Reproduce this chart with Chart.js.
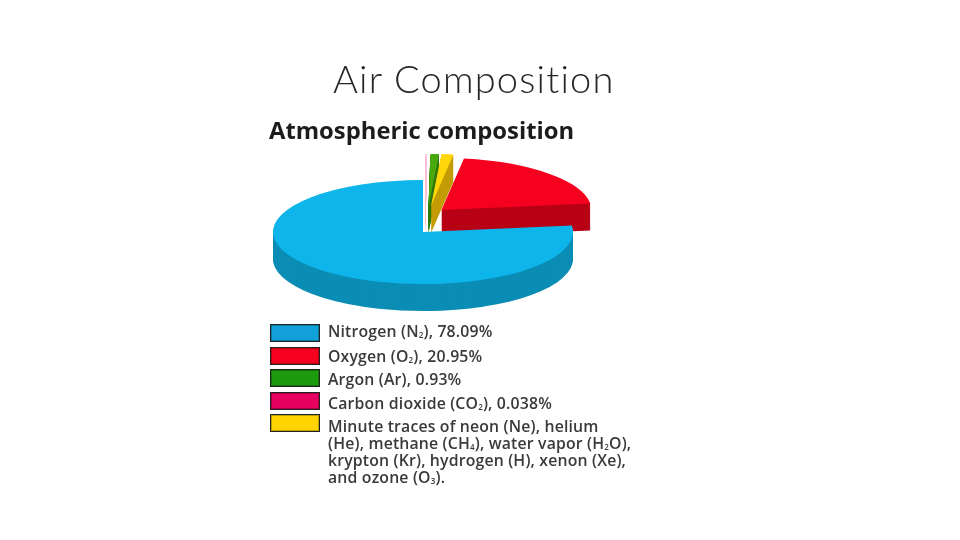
<!DOCTYPE html>
<html>
<head>
<meta charset="utf-8">
<title>Air Composition</title>
<script src="https://cdn.jsdelivr.net/npm/chart.js@4/dist/chart.umd.min.js"></script>
<style>
  html, body { margin: 0; background: #fff; }
  #page { position: relative; width: 960px; height: 540px; overflow: hidden; }
  #pie { position: absolute; left: 0; top: 0; filter: blur(0.4px); }
  #title { position: absolute; left: 333px; top: 55px; font: 300 38px Lato, sans-serif; letter-spacing: 1.2px; font-variant-ligatures: none; color: #262626; white-space: nowrap; }
  #sub { position: absolute; left: 269px; top: 114px; font: 700 23.8px "Open Sans", sans-serif; color: #1c1c1c; white-space: nowrap; filter: blur(0.5px); }
  .swatch { position: absolute; left: 270px; width: 48px; height: 16px; border: 1px solid #222; box-shadow: inset 0 0 0 1px rgba(0,0,0,.25); filter: blur(0.3px); }
  .entry { position: absolute; left: 328px; font: 600 15.8px/17px "Open Sans", sans-serif; letter-spacing: 0.17px; color: #3a3a3a; white-space: nowrap; filter: blur(0.5px); }
  .entry sub { font-size: 8px; line-height: 0; vertical-align: -1px; }
</style>
</head>
<body>
<div id="page">
  <canvas id="pie" width="960" height="540"></canvas>
  <div id="title">Air Composition</div>
  <div id="sub">Atmospheric composition</div>
</div>
<script>
// slices clockwise from 12 o'clock, values as drawn in the picture
const sliceLabels = ["Carbon dioxide", "Argon", "Minute traces", "Oxygen", "Nitrogen"];
const sliceValues = [0.2, 0.93, 1.3, 20.95, 78.09];
const sliceColors = ["#f9bcd8", "#4aa80f", "#ffd60a", "#f5001e", "#0db5ea"];
const sideColors = ["#f9bcd8", "#2f7a0a", "#c39c05", "#b80016", "#0b8db5"];

// legend
const legendColors = ["#12a0d8", "#f5001e", "#1e9a0e", "#e5005f", "#ffd400"];
const legendTexts = [
  "Nitrogen (N<sub>2</sub>), 78.09%",
  "Oxygen (O<sub>2</sub>), 20.95%",
  "Argon (Ar), 0.93%",
  "Carbon dioxide (CO<sub>2</sub>), 0.038%",
  "Minute traces of neon (Ne), helium<br>(He), methane (CH<sub>4</sub>), water vapor (H<sub>2</sub>O),<br>krypton (Kr), hydrogen (H), xenon (Xe),<br>and ozone (O<sub>3</sub>)."
];
const swatchTops = [324, 347, 369, 392, 414];
const entryTops = [323, 348, 371, 395, 418];

// how far each slice is pulled out, and the tilt of the pie
const sliceShiftX = [2, 5.5, 8, 18.5, 0];
const sliceShiftY = [-26, -26, -26, -22, 0];
const squash = 0.347;
const depth = 27;

legendColors.forEach((color, i) => {
  const swatch = document.createElement("div");
  swatch.className = "swatch";
  swatch.style.top = swatchTops[i] + "px";
  swatch.style.background = color;
  document.getElementById("page").appendChild(swatch);

  const entry = document.createElement("div");
  entry.className = "entry";
  entry.style.top = entryTops[i] + "px";
  entry.innerHTML = legendTexts[i];
  document.getElementById("page").appendChild(entry);
});

// draws the arcs squashed and stacked so the pie looks 3D
const tiltedPie = {
  id: "tiltedPie",
  beforeDatasetDraw(chart) {
    const ctx = chart.ctx;
    const arcs = chart.getDatasetMeta(0).data;

    arcs.forEach((arc, i) => {
      const base = arc.options;
      for (let d = depth; d >= 0; d--) {
        arc.options = Object.assign({}, base, {
          backgroundColor: d === 0 ? sliceColors[i] : sideColors[i]
        });
        ctx.save();
        ctx.translate(arc.x + sliceShiftX[i], arc.y + sliceShiftY[i] + d);
        ctx.scale(1, squash);
        ctx.translate(-arc.x, -arc.y);
        arc.draw(ctx);
        ctx.restore();
      }
      arc.options = base;
    });
    return false;
  }
};

new Chart(document.getElementById("pie"), {
  type: "pie",
  data: {
    labels: sliceLabels,
    datasets: [{ data: sliceValues, backgroundColor: sliceColors, borderWidth: 0 }]
  },
  options: {
    responsive: false,
    animation: false,
    // leaves a 300px square centred on the pie
    layout: { padding: { left: 273, right: 387, top: 82, bottom: 158 } },
    plugins: { legend: { display: false }, tooltip: { enabled: false } }
  },
  plugins: [tiltedPie]
});
</script>
</body>
</html>
